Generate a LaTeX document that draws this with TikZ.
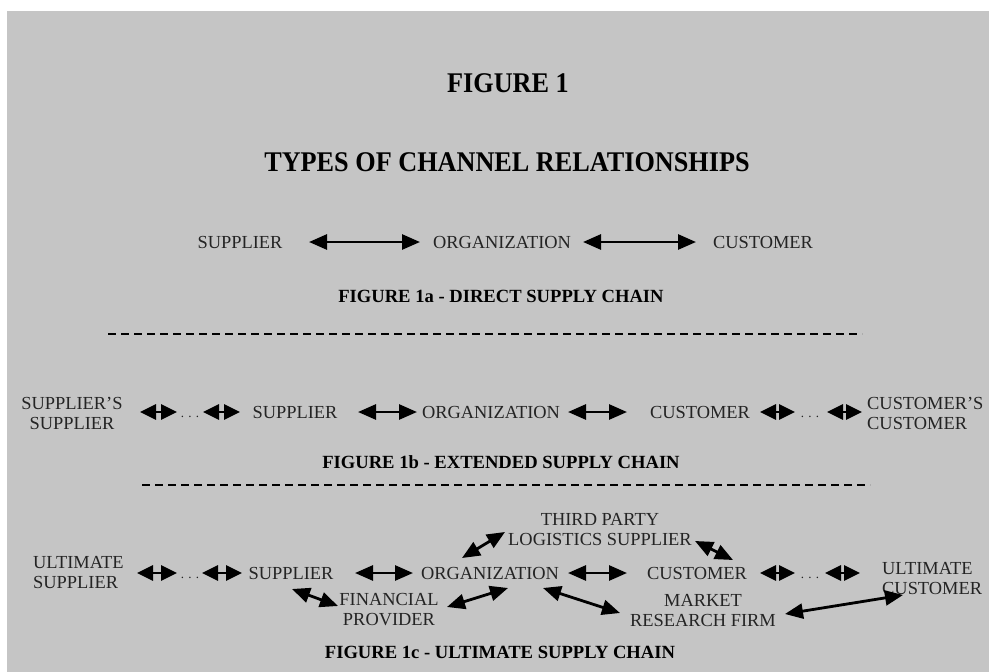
\documentclass[tikz,border=0pt]{standalone}
\usepackage{fontspec}
\setmainfont{Liberation Serif}
\newfontfamily\headfont[FakeStretch=0.92]{Liberation Serif}
\usetikzlibrary{arrows.meta}
\definecolor{paper}{RGB}{197,197,197}
\definecolor{ink}{RGB}{36,36,36}
\tikzset{
  lbl/.style={inner sep=0pt, text=ink, font=\fontsize{18.4}{20}\selectfont},
  lbltwo/.style={lbl, align=center},
  lblleft/.style={lbl, align=left, anchor=west},
  capt/.style={inner sep=0pt, text=black, font=\fontsize{18.6}{20}\selectfont\bfseries},
  headline/.style={inner sep=0pt, text=black, font=\headfont\fontsize{28.5}{30}\selectfont\bfseries},
  dotsnode/.style={inner sep=0pt, text=ink, font=\fontsize{13}{15}\selectfont},
  twoway/.style={{Triangle[length=18pt,width=15pt]}-{Triangle[length=18pt,width=15pt]}, line width=2.8pt, draw=black},
  shortway/.style={{Triangle[length=16pt,width=15pt]}-{Triangle[length=16pt,width=15pt]}, line width=2.8pt, draw=black},
  separator/.style={draw=black, line width=1.4pt, dash pattern=on 8pt off 5pt}
}
\begin{document}
\begin{tikzpicture}[x=1pt,y=-1pt]
\useasboundingbox (0,0) rectangle (989,672);
\fill[white] (0,0) rectangle (989,672);
\fill[paper] (7,11) rectangle (989,672);

% headings
\node[headline] (fig) at (508,83) {FIGURE 1};
\node[headline] (types) at (507,162) {TYPES OF CHANNEL RELATIONSHIPS};

% 1a: direct supply chain
\node[lbl] (s1a) at (240,242) {SUPPLIER};
\node[lbl] (o1a) at (502,242) {ORGANIZATION};
\node[lbl] (c1a) at (763,242) {CUSTOMER};
\draw[twoway] ([shift={(69,0)}]s1a.center) -- ([shift={(-82,0)}]o1a.center);
\draw[twoway] ([shift={(81,0)}]o1a.center) -- ([shift={(-67,0)}]c1a.center);
\node[capt] (cap1a) at (501,296) {FIGURE 1a - DIRECT SUPPLY CHAIN};

\coordinate (sepA1) at (108,334);
\coordinate (sepA2) at (862,334);
\draw[separator] (sepA1) -- (sepA2);

% 1b: extended supply chain
\node[lbltwo] (ss) at (72,413) {SUPPLIER'S\\SUPPLIER};
\node[dotsnode] (d1) at (190,417) {. . .};
\node[lbl] (s1b) at (295,412) {SUPPLIER};
\node[lbl] (o1b) at (491,412) {ORGANIZATION};
\node[lbl] (c1b) at (700,412) {CUSTOMER};
\node[dotsnode] (d2) at (810,417) {. . .};
\node[lblleft] (cc) at (867,413) {CUSTOMER'S\\CUSTOMER};
\draw[shortway] ([shift={(68,-1)}]ss.center) -- ([shift={(-13,-5)}]d1.center);
\draw[shortway] ([shift={(13,-5)}]d1.center) -- ([shift={(-55,0)}]s1b.center);
\draw[twoway] ([shift={(63,0)}]s1b.center) -- ([shift={(-74,0)}]o1b.center);
\draw[twoway] ([shift={(77,0)}]o1b.center) -- ([shift={(-73,0)}]c1b.center);
\draw[shortway] ([shift={(60,0)}]c1b.center) -- ([shift={(-15,-5)}]d2.center);
\draw[shortway] ([shift={(17,-5)}]d2.center) -- ([shift={(-5,-1)}]cc.west);
\node[capt] (cap1b) at (501,462) {FIGURE 1b - EXTENDED SUPPLY CHAIN};

\coordinate (sepB1) at (142,485);
\coordinate (sepB2) at (870,485);
\draw[separator] (sepB1) -- (sepB2);

% 1c: ultimate supply chain
\node[lblleft] (us) at (33,573) {ULTIMATE\\SUPPLIER};
\node[dotsnode] (d3) at (190,578) {. . .};
\node[lbl] (s1c) at (291,573) {SUPPLIER};
\node[lbl] (o1c) at (490,573) {ORGANIZATION};
\node[lbl] (c1c) at (697,573) {CUSTOMER};
\node[dotsnode] (d4) at (810,578) {. . .};
\node[lblleft] (uc) at (882,579) {ULTIMATE\\CUSTOMER};
\node[lbltwo] (tpl) at (600,530) {THIRD PARTY\\LOGISTICS SUPPLIER};
\node[lbltwo] (fp) at (389,610) {FINANCIAL\\PROVIDER};
\node[lbltwo] (mrf) at (703,611) {MARKET\\RESEARCH FIRM};

\draw[shortway] ([shift={(104,0)}]us.west) -- ([shift={(-13,-5)}]d3.center);
\draw[shortway] ([shift={(12,-5)}]d3.center) -- ([shift={(-49,0)}]s1c.center);
\draw[twoway] ([shift={(64,0)}]s1c.center) -- ([shift={(-77,0)}]o1c.center);
\draw[twoway] ([shift={(78,0)}]o1c.center) -- ([shift={(-70,0)}]c1c.center);
\draw[shortway] ([shift={(63,0)}]c1c.center) -- ([shift={(-15,-5)}]d4.center);
\draw[shortway] ([shift={(15,-5)}]d4.center) -- ([shift={(-22,-6)}]uc.west);

\draw[twoway] ([shift={(-28,-15)}]o1c.center) -- ([shift={(-95,2)}]tpl.center);
\draw[twoway] ([shift={(95,11)}]tpl.center) -- ([shift={(36,-13)}]c1c.center);
\draw[twoway] ([shift={(1,16)}]s1c.center) -- ([shift={(-51,-4)}]fp.center);
\draw[twoway] ([shift={(58,-3)}]fp.center) -- ([shift={(18,15)}]o1c.center);
\draw[twoway] ([shift={(53,15)}]o1c.center) -- ([shift={(-83,2)}]mrf.center);
\draw[twoway] ([shift={(82,3)}]mrf.center) -- ([shift={(21,16)}]uc.west);

\node[capt] (cap1c) at (500,652) {FIGURE 1c - ULTIMATE SUPPLY CHAIN};
\end{tikzpicture}
\end{document}
